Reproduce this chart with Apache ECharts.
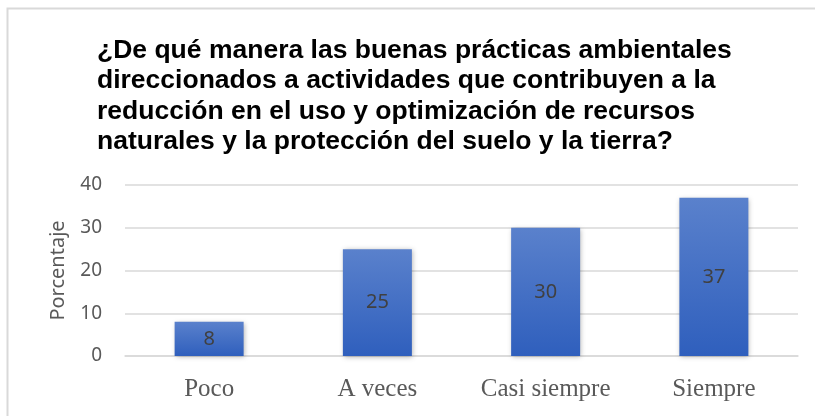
<!DOCTYPE html>
<html>
<head>
<meta charset="utf-8">
<script src="https://cdn.jsdelivr.net/npm/echarts@6/dist/echarts.min.js"></script>
<style>
  html, body { margin: 0; padding: 0; background: #fff; }
  #chart { width: 815px; height: 416px; }
</style>
</head>
<body>
<div id="chart"></div>
<script>
const titleLines = [
  '¿De qué manera las buenas prácticas ambientales',
  'direccionados a actividades que contribuyen a la',
  'reducción en el uso y optimización de recursos',
  'naturales y la protección del suelo y la tierra?',
]
const categories = ['Poco', 'A veces', 'Casi siempre', 'Siempre']
const values = [8, 25, 30, 37]
const yTicks = [0, 10, 20, 30, 40]

const chart = echarts.init(document.getElementById('chart'), null, { renderer: 'canvas' })

chart.setOption({
  animation: false,
  backgroundColor: '#fff',
  title: {
    text: titleLines.join('\n'),
    left: 92,
    top: 30,
    textStyle: {
      fontFamily: 'Liberation Sans, Arial, sans-serif',
      fontWeight: 'bold',
      fontSize: 26.5,
      lineHeight: 30.5,
      color: '#000',
    },
  },
  graphic: [
    {
      type: 'rect',
      shape: { x: 7.5, y: 8.5, width: 900, height: 500 },
      style: { fill: 'none', stroke: '#d9d9d9', lineWidth: 2 },
      silent: true,
    },
  ],
  grid: { left: 125, right: 17, top: 185, bottom: 60 },
  xAxis: {
    type: 'category',
    data: categories,
    axisTick: { show: false },
    axisLine: { lineStyle: { color: '#d9d9d9', width: 1.5 } },
    axisLabel: {
      interval: 0,
      color: '#595959',
      fontFamily: 'Liberation Serif, Times New Roman, serif',
      fontSize: 25,
      margin: 21,
    },
  },
  yAxis: {
    type: 'value',
    min: yTicks[0],
    max: yTicks[yTicks.length - 1],
    interval: 10,
    name: 'Porcentaje',
    nameLocation: 'middle',
    nameGap: 57,
    nameTextStyle: {
      color: '#595959',
      fontFamily: 'Noto Sans, sans-serif',
      fontSize: 20,
    },
    axisLine: { show: false },
    axisTick: { show: false },
    axisLabel: {
      color: '#595959',
      fontFamily: 'Noto Sans, sans-serif',
      fontSize: 19,
      margin: 23,
    },
    splitLine: { lineStyle: { color: '#d9d9d9', width: 1.5 } },
  },
  series: [
    {
      type: 'bar',
      data: values,
      barWidth: 69,
      itemStyle: {
        color: new echarts.graphic.LinearGradient(0, 0, 0, 1, [
          { offset: 0, color: '#5a81cc' },
          { offset: 1, color: '#2f5fbd' },
        ]),
        shadowColor: 'rgba(0,0,0,0.3)',
        shadowBlur: 5,
        shadowOffsetX: 1,
        shadowOffsetY: 1,
      },
      label: {
        show: true,
        position: 'inside',
        color: '#404040',
        fontFamily: 'Noto Sans, sans-serif',
        fontSize: 20,
      },
    },
  ],
})
</script>
</body>
</html>
